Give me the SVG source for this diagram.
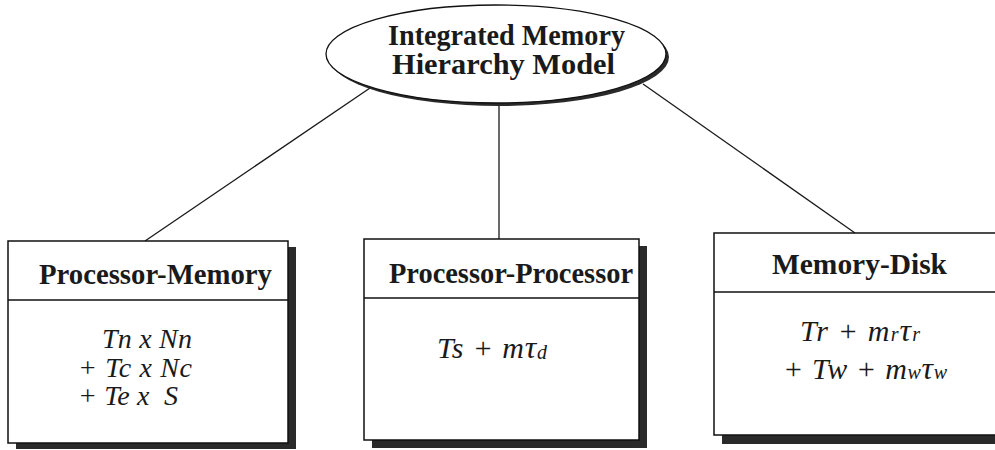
<svg xmlns="http://www.w3.org/2000/svg" width="995" height="450" viewBox="0 0 995 450">
<style>
.frame{fill:#fff;stroke:#111;stroke-width:1.5}
.shadow{fill:#2a2a2a}
.div{stroke:#111;stroke-width:1.5}
.title{font-family:"Liberation Serif",serif;font-weight:bold;font-size:29px;fill:#1a1a1a}
.head{font-family:"Liberation Serif",serif;font-weight:bold;font-size:29px;fill:#1a1a1a}
.f{font-family:"Liberation Serif",serif;font-style:italic;font-size:28px;fill:#1a1a1a}
.f2{font-size:30px}
.sub{font-size:20px}
.tau{font-size:32px}
.conn{stroke:#1a1a1a;stroke-width:1.3;fill:none}
</style>
<rect width="995" height="450" fill="#fff"/>
<g id="connectors">
<line class="conn" x1="370" y1="88" x2="145" y2="241"/>
<line class="conn" x1="499" y1="104" x2="499" y2="239"/>
<line class="conn" x1="643" y1="84" x2="855" y2="233"/>
</g>
<g id="root">
<ellipse class="shadow" cx="499" cy="57" rx="170" ry="49"/>
<ellipse cx="496" cy="54" rx="170" ry="49" fill="#fff" stroke="#111" stroke-width="1.3"/>
<text class="head" x="388" y="45" textLength="237" lengthAdjust="spacingAndGlyphs">Integrated Memory</text>
<text class="head" x="392" y="74" textLength="223" lengthAdjust="spacingAndGlyphs">Hierarchy  Model</text>
</g>
<g id="processor-memory">
<rect class="shadow" x="16" y="247" width="280" height="202"/>
<rect class="frame" x="8" y="241" width="280" height="202"/>
<line class="div" x1="8" y1="300" x2="288" y2="300"/>
<text class="title" x="39" y="284" textLength="233" lengthAdjust="spacingAndGlyphs">Processor-Memory</text>
<text class="f" x="102" y="348" textLength="90">Tn x Nn</text>
<text class="f" x="78" y="377" textLength="114">+ Tc x Nc</text>
<text class="f" x="78" y="405" xml:space="preserve" textLength="100">+ Te x  S</text>
</g>
<g id="processor-processor">
<rect class="shadow" x="372" y="246" width="275" height="202"/>
<rect class="frame" x="364" y="239" width="275" height="201"/>
<line class="div" x1="364" y1="298" x2="639" y2="298"/>
<text class="title" x="389" y="283" textLength="244" lengthAdjust="spacingAndGlyphs">Processor-Processor</text>
<text class="f f2" x="437" y="358" textLength="110">Ts + m<tspan class="tau">τ</tspan><tspan class="sub" dy="1">d</tspan></text>
</g>
<g id="memory-disk">
<rect class="shadow" x="722" y="240" width="300" height="204"/>
<rect class="frame" x="714" y="233" width="300" height="202"/>
<line class="div" x1="714" y1="292" x2="1014" y2="292"/>
<text class="title" x="772" y="274" textLength="175" lengthAdjust="spacingAndGlyphs">Memory-Disk</text>
<text class="f f2" x="800" y="341" textLength="120">Tr + m<tspan class="sub">r</tspan><tspan class="tau">τ</tspan><tspan class="sub">r</tspan></text>
<text class="f f2" x="783" y="379" textLength="164">+ Tw + m<tspan class="sub">w</tspan><tspan class="tau">τ</tspan><tspan class="sub">w</tspan></text>
</g>
</svg>
